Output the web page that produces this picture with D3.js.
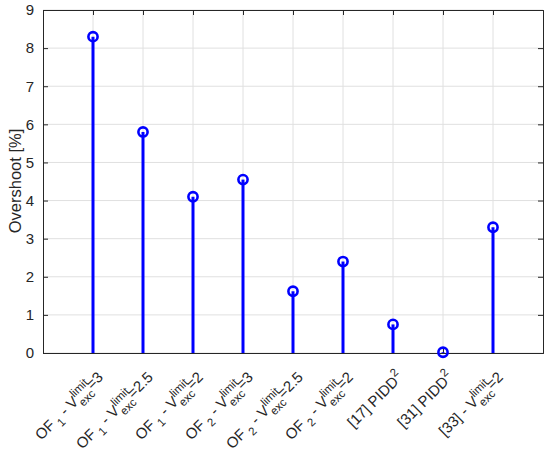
<!DOCTYPE html>
<html><head><meta charset="utf-8">
<script src="https://cdn.jsdelivr.net/npm/d3@7"></script>
<style>body{margin:0;background:#fff}svg{display:block}text{font-family:"Liberation Sans",Arial,Helvetica,sans-serif}</style>
</head><body>
<svg id="c" width="550" height="452"></svg>
<script>
const labels = [
  [{t:"OF"},{t:" 1",sub:true},{t:" - V"},{sup:"limit",sub2:"exc"},{t:"=3"}],
  [{t:"OF"},{t:" 1",sub:true},{t:" - V"},{sup:"limit",sub2:"exc"},{t:"=2.5"}],
  [{t:"OF"},{t:" 1",sub:true},{t:" - V"},{sup:"limit",sub2:"exc"},{t:"=2"}],
  [{t:"OF"},{t:" 2",sub:true},{t:" - V"},{sup:"limit",sub2:"exc"},{t:"=3"}],
  [{t:"OF"},{t:" 2",sub:true},{t:" - V"},{sup:"limit",sub2:"exc"},{t:"=2.5"}],
  [{t:"OF"},{t:" 2",sub:true},{t:" - V"},{sup:"limit",sub2:"exc"},{t:"=2"}],
  [{t:"[17] PIDD"},{supOnly:"2"}],
  [{t:"[31] PIDD"},{supOnly:"2"}],
  [{t:"[33] - V"},{sup:"limit",sub2:"exc"},{t:"=2"}]
];
const positions = [1,2,3,4,5,6,7,8,9];
const overshoot = [8.3, 5.8, 4.1, 4.55, 1.62, 2.4, 0.75, 0.02, 3.3];
const yTicks = [0,1,2,3,4,5,6,7,8,9];
const yLabel = "Overshoot [%]";

const svg = d3.select("#c");
const L = 43, R = 543, T = 10, B = 353;
const x = d3.scaleLinear().domain([0,10]).range([L,R]);
const y = d3.scaleLinear().domain([0,9]).range([B,T]);
const axisCol = "#262626", gridCol = "#e0e0e0", blue = "#0000ff";

svg.append("g").selectAll("line").data(yTicks).join("line")
  .attr("x1",L).attr("x2",R).attr("y1",d=>y(d)).attr("y2",d=>y(d))
  .attr("stroke",gridCol).attr("stroke-width",1);
svg.append("g").selectAll("line").data(positions).join("line")
  .attr("x1",d=>x(d)).attr("x2",d=>x(d)).attr("y1",T).attr("y2",B)
  .attr("stroke",gridCol).attr("stroke-width",1);

const yAx = svg.append("g").attr("transform",`translate(${L},0)`)
  .call(d3.axisLeft(y).tickValues(yTicks).tickSize(-5).tickPadding(9).tickFormat(d3.format("d")));
const yAxR = svg.append("g").attr("transform",`translate(${R},0)`)
  .call(d3.axisRight(y).tickValues(yTicks).tickSize(-5).tickFormat(""));
const xAx = svg.append("g").attr("transform",`translate(0,${B})`)
  .call(d3.axisBottom(x).tickValues(positions).tickSize(-5).tickFormat(""));
const xAxT = svg.append("g").attr("transform",`translate(0,${T})`)
  .call(d3.axisTop(x).tickValues(positions).tickSize(-5).tickFormat(""));
[yAx,yAxR,xAx,xAxT].forEach(g=>{
  g.select(".domain").attr("stroke",axisCol).attr("stroke-width",1);
  g.selectAll(".tick line").attr("stroke",axisCol);
});
yAx.selectAll(".tick text").attr("font-size",15).attr("fill",axisCol);

svg.append("text").attr("transform",`translate(21,${181}) rotate(-90)`)
  .attr("text-anchor","middle").attr("font-size",16.5).attr("fill",axisCol).text(yLabel);

const meas = svg.append("text").attr("visibility","hidden");
function w(s,fs){ meas.attr("font-size",fs).text(s); return meas.node().getComputedTextLength(); }

const FS = 15, SFS = 11.5;
positions.forEach((p,i)=>{
  const t = svg.append("text").attr("font-size",FS).attr("fill",axisCol)
    .attr("text-anchor","end").attr("dy","0.35em")
    .attr("transform",`translate(${x(p)+11},${B+25}) rotate(-45)`);
  let cur = 0;
  labels[i].forEach(seg=>{
    if(seg.t!==undefined && !seg.sub){
      t.append("tspan").attr("dy",-cur).text(seg.t); cur=0;
    } else if(seg.sub){
      t.append("tspan").attr("font-size",SFS).attr("dy",5-cur).text(seg.t); cur=5;
    } else if(seg.supOnly){
      t.append("tspan").attr("font-size",SFS).attr("dy",-7-cur).text(seg.supOnly); cur=-7;
    } else if(seg.sup){
      const w1 = w(seg.sup,SFS), w2 = w(seg.sub2,SFS);
      t.append("tspan").attr("font-size",SFS).attr("dy",-7-cur).text(seg.sup);
      t.append("tspan").attr("font-size",SFS).attr("dx",-w1).attr("dy",13).text(seg.sub2);
      cur=6;
      t.append("tspan").attr("font-size",SFS).attr("dx",Math.max(0,w1-w2)).text("");
    }
  });
});
meas.remove();

svg.append("g").selectAll("line").data(overshoot).join("line")
  .attr("x1",(d,i)=>x(positions[i])).attr("x2",(d,i)=>x(positions[i]))
  .attr("y1",y(0)).attr("y2",d=>y(d))
  .attr("stroke",blue).attr("stroke-width",3);
svg.append("g").selectAll("circle").data(overshoot).join("circle")
  .attr("cx",(d,i)=>x(positions[i])).attr("cy",d=>y(d)).attr("r",4.6)
  .attr("fill","none").attr("stroke",blue).attr("stroke-width",2.6);
</script>
</body></html>
